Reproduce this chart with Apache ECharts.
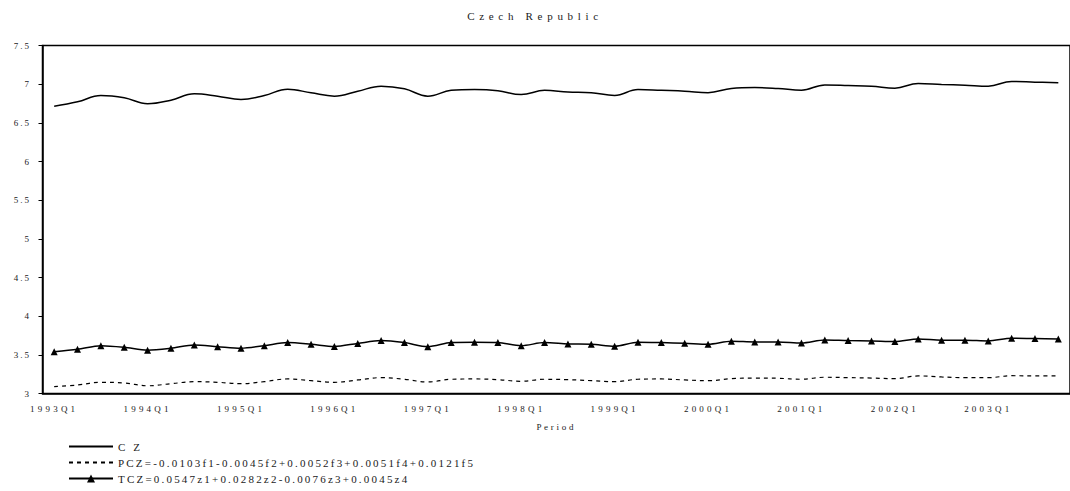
<!DOCTYPE html>
<html>
<head>
<meta charset="utf-8">
<script src="https://cdn.jsdelivr.net/npm/echarts@6/dist/echarts.min.js"></script>
<style>
  html, body { margin: 0; padding: 0; background: #fff; }
  #main { width: 1070px; height: 491px; }
</style>
</head>
<body>
<div id="main"></div>
<script>
// quarters 1993Q1 .. 2003Q4
var years = [1993, 1994, 1995, 1996, 1997, 1998, 1999, 2000, 2001, 2002, 2003];
var quarters = [];
years.forEach(function (y) {
  for (var q = 1; q <= 4; q++) quarters.push(y + 'Q' + q);
});

var cz = [6.715, 6.772, 6.854, 6.824, 6.746, 6.793, 6.876, 6.845, 6.802, 6.854, 6.935,
  6.888, 6.845, 6.909, 6.974, 6.94, 6.845, 6.92, 6.93, 6.915, 6.866, 6.92, 6.9, 6.89,
  6.854, 6.93, 6.92, 6.91, 6.89, 6.945, 6.957, 6.944, 6.922, 6.99, 6.983, 6.974, 6.948,
  7.009, 6.996, 6.987, 6.974, 7.035, 7.026, 7.018];

var pcz = [3.088, 3.11, 3.145, 3.136, 3.10, 3.127, 3.153, 3.145, 3.127, 3.153, 3.188,
  3.166, 3.145, 3.175, 3.205, 3.184, 3.149, 3.184, 3.188, 3.179, 3.158, 3.184, 3.179,
  3.166, 3.153, 3.184, 3.188, 3.175, 3.166, 3.192, 3.2, 3.197, 3.184, 3.21, 3.205, 3.2,
  3.192, 3.227, 3.214, 3.205, 3.205, 3.23, 3.227, 3.227];

var tcz = [3.541, 3.572, 3.619, 3.598, 3.56, 3.585, 3.628, 3.606, 3.585, 3.619, 3.658,
  3.637, 3.608, 3.648, 3.684, 3.658, 3.606, 3.658, 3.663, 3.658, 3.619, 3.658, 3.641,
  3.637, 3.611, 3.663, 3.658, 3.65, 3.637, 3.676, 3.667, 3.667, 3.654, 3.693, 3.684,
  3.68, 3.671, 3.706, 3.689, 3.689, 3.68, 3.715, 3.71, 3.706];

var names = ['CZ',
  'PCZ=-0.0103f1-0.0045f2+0.0052f3+0.0051f4+0.0121f5',
  'TCZ=0.0547z1+0.0282z2-0.0076z3+0.0045z4'];

var FONT = 'Liberation Serif';
var INK = '#1a1a1a';

var myChart = echarts.init(document.getElementById('main'), null, { renderer: 'svg' });

var option = {
  animation: false,
  backgroundColor: '#fff',
  title: {
    text: 'Czech Republic',
    left: 'center',
    top: 5,
    textStyle: { fontFamily: FONT, fontSize: 11, fontWeight: 'normal', color: INK }
  },
  legend: {
    orient: 'vertical',
    left: 68,
    top: 441,
    height: 50,
    padding: 0,
    itemWidth: 44,
    itemHeight: 10,
    itemGap: 5,
    textStyle: { fontFamily: FONT, fontSize: 11, color: INK },
    data: [
      { name: names[0], itemStyle: { opacity: 0 } },
      { name: names[1], itemStyle: { opacity: 0 } },
      { name: names[2] }
    ]
  },
  grid: {
    left: 42.5,
    top: 45.5,
    width: 1031,
    height: 348,
    show: true,
    borderColor: '#000',
    borderWidth: 1.5,
    backgroundColor: 'transparent'
  },
  xAxis: {
    type: 'category',
    data: quarters,
    boundaryGap: true,
    name: 'Period',
    nameLocation: 'middle',
    nameGap: 29,
    nameTextStyle: { fontFamily: FONT, fontSize: 9, color: INK },
    axisLine: { lineStyle: { color: '#000', width: 1.5 } },
    axisTick: { interval: 0, length: 3, lineStyle: { color: '#000' } },
    axisLabel: { interval: 3, margin: 11, fontFamily: FONT, fontSize: 9, color: INK },
    splitLine: { show: false }
  },
  yAxis: {
    type: 'value',
    min: 3,
    max: 7.5,
    interval: 0.5,
    axisLine: { show: true, lineStyle: { color: '#000', width: 1.5 } },
    axisTick: { show: true, length: 4, lineStyle: { color: '#000' } },
    axisLabel: { margin: 11.5, fontFamily: FONT, fontSize: 9, color: INK },
    splitLine: { show: false }
  },
  series: [
    {
      name: names[0],
      type: 'line',
      data: cz,
      smooth: 0.4,
      symbol: 'none',
      lineStyle: { color: '#000', width: 1.5 },
      itemStyle: { color: '#000' }
    },
    {
      name: names[1],
      type: 'line',
      data: pcz,
      smooth: 0.4,
      symbol: 'none',
      lineStyle: { color: '#000', width: 1.2, type: [4, 4] },
      itemStyle: { color: '#000' }
    },
    {
      name: names[2],
      type: 'line',
      data: tcz,
      smooth: 0.3,
      symbol: 'triangle',
      symbolSize: 7,
      lineStyle: { color: '#000', width: 1.5 },
      itemStyle: { color: '#000' }
    }
  ]
};

myChart.setOption(option);

// the original text is drawn with wide letter spacing
function spaceLetters() {
  document.querySelectorAll('#main text').forEach(function (t) {
    var s = t.textContent;
    var ls = 2.2;
    if (s === 'Czech Republic') ls = 4.7;
    else if (/^\d{4}Q\d$/.test(s)) ls = 3.2;
    else if (s === 'Period') ls = 2.7;
    else if (s === 'CZ') ls = 8;
    else if (/^[\d.]+$/.test(s)) ls = 2;
    t.setAttribute('letter-spacing', ls);
  });
}
spaceLetters();
myChart.on('finished', spaceLetters);
setTimeout(spaceLetters, 50);
</script>
</body>
</html>
